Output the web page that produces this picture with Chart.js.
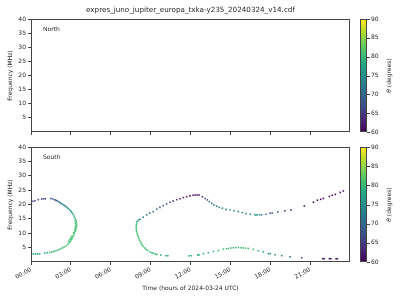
<!DOCTYPE html>
<html><head><meta charset="utf-8">
<script src="https://cdn.jsdelivr.net/npm/chart.js@4.4.0/dist/chart.umd.min.js"></script>
<style>
html,body{margin:0;padding:0;background:#fff;width:400px;height:300px;overflow:hidden}
#c1{position:absolute;left:0;top:0}
#c2{position:absolute;left:0;top:140px}
</style></head><body>
<canvas id="c1" width="400" height="140" style="width:400px;height:140px"></canvas>
<canvas id="c2" width="400" height="160" style="width:400px;height:160px"></canvas>
<script>
// ---- data (time in hours, frequency MHz, theta degrees) ----
const chartTitle = 'expres_juno_jupiter_europa_txka-y235_20240324_v14.cdf';
const timeTickValues = [0, 3, 6, 9, 12, 15, 18, 21];
const timeTickLabels = ['00:00', '03:00', '06:00', '09:00', '12:00', '15:00', '18:00', '21:00'];
const freqTickValues = [5, 10, 15, 20, 25, 30, 35, 40];
const thetaTickValues = [60, 65, 70, 75, 80, 85, 90];
const northPoints = [];
// South: first arc (00:00-03:30), [time, freq, theta]
const southArc1 = [
  [0.0,20.8,66],[0.15,21.1,66],[0.3,21.3,66],[0.55,21.7,66],[0.8,21.9,66],[0.95,22.0,66],[1.08,22.0,66],
  [1.5,22.1,66],[1.65,21.9,67],[1.8,21.6,68],[1.9,21.4,69],[2.0,21.2,70],[2.1,20.9,71],[2.2,20.6,72],
  [2.3,20.3,72],[2.4,20.0,73],[2.5,19.7,74],[2.6,19.4,74],[2.7,19.0,75],[2.8,18.6,75],[2.9,18.2,76],
  [3.0,17.7,76],[3.08,17.2,77],[3.16,16.6,78],[3.24,16.0,79],[3.3,15.4,80],[3.36,14.8,80],[3.4,14.2,81],
  [3.42,13.6,81],[3.43,13.0,81],[3.42,12.4,81],[3.4,11.8,81],[3.36,11.2,81],[3.32,10.6,81],[3.27,10.0,81],
  [3.33,14.2,81],[3.34,13.4,81],[3.34,12.6,81],[3.33,11.8,81],[3.28,11.0,81],[3.2,10.2,81],
  [3.22,9.4,81],[3.16,8.8,81],[3.1,8.2,81],[3.03,7.7,81],[2.96,7.2,81],[2.88,6.7,81],[2.78,6.2,81],
  [3.08,9.0,81],[3.0,8.4,81],[2.92,7.8,81],[2.84,7.2,81],
  [2.66,5.7,81],[2.53,5.3,81],[2.4,5.0,81],[2.28,4.7,81],[2.15,4.4,81],[2.03,4.2,80],[1.88,3.9,80],
  [1.73,3.7,80],[1.57,3.5,80],[1.41,3.3,80],[1.22,3.2,79],[1.03,3.1,79],
  [0.65,2.8,78],[0.5,2.8,78],[0.35,2.8,78],[0.2,2.8,78],[0.05,2.8,78]
];
// South: second arc, upper branch (08:00-23:30)
const southArc2Upper = [
  [8.0,14.2,78],[8.1,14.6,76],[8.2,14.9,74],[8.45,15.6,73],[8.7,16.4,72],[8.95,17.0,71],[9.2,17.5,70],
  [9.46,18.4,69],[9.7,19.0,68],[9.95,19.6,67],[10.2,20.2,66],[10.46,20.8,65],[10.7,21.2,64],[10.96,21.7,64],
  [11.2,22.0,63],[11.46,22.4,63],[11.71,22.7,62],[11.96,23.0,62],[12.2,23.2,61],[12.35,23.3,61],
  [12.5,23.3,61],[12.65,23.3,61],[12.9,22.7,63],[13.1,22.1,66],[13.27,21.6,68],[13.42,21.0,70],
  [13.6,20.4,71],[13.77,19.8,72],[13.97,19.4,73],[14.17,19.0,73],[14.4,18.7,73],[14.67,18.3,74],
  [14.97,18.1,74],[15.27,17.8,74],[15.6,17.5,74],[15.9,17.2,74],[16.18,16.8,74],[16.5,16.6,74],
  [16.85,16.4,74],[17.0,16.4,74],[17.2,16.4,74],[17.35,16.4,74],[17.68,16.6,71],[18.0,17.0,68],
  [18.15,17.0,68],[18.56,17.4,67],[19.1,17.8,63],[19.56,18.1,62],[20.56,19.5,61],[21.25,20.8,60],
  [21.55,21.5,60],[21.8,21.8,60],[22.0,22.1,60],[22.45,22.8,60],[22.67,23.2,60],[22.9,23.5,60],
  [23.27,24.2,60],[23.5,24.7,60]
];
// South: second arc, lower branch (08:00-23:00)
const southArc2Lower = [
  [7.95,13.6,80],[7.93,13.0,80],[7.92,12.4,81],[7.92,11.8,81],[7.93,11.2,81],[7.95,10.6,81],[7.98,10.0,81],
  [8.02,9.4,81],[8.07,8.8,81],[8.12,8.2,81],[8.18,7.6,81],[8.24,7.0,81],[8.3,6.4,81],[8.37,5.9,81],
  [8.45,5.4,81],[8.55,4.9,81],[8.65,4.4,81],[8.78,4.0,81],[8.95,3.5,80],[9.1,3.2,80],[9.2,3.0,80],
  [9.35,2.8,80],[9.46,2.6,80],[9.76,2.4,79],[10.15,2.2,79],[10.3,2.2,79],
  [11.9,2.2,79],[12.05,2.2,79],[12.55,2.4,79],[12.65,2.5,79],[12.97,2.9,79],[13.34,3.2,80],
  [13.72,3.7,80],[14.1,4.0,80],[14.47,4.5,81],[14.7,4.6,81],[14.85,4.7,81],[15.05,4.85,81],
  [15.22,4.95,81],[15.4,5.0,81],[15.6,5.05,81],[15.8,5.0,81],[15.97,4.9,81],[16.15,4.8,81],
  [16.35,4.7,81],[16.73,4.4,80],[17.1,3.9,79],[17.48,3.5,78],[17.86,2.9,76],[18.0,2.9,76],
  [18.36,2.5,75],[18.86,2.2,73],[19.5,1.8,70],[20.37,1.5,66],
  [21.95,1.15,61],[22.05,1.15,61],[22.45,1.15,61],[22.55,1.15,61],[22.95,1.15,61],[23.05,1.15,61]
];

// ---- viridis colormap ----
const VIR = ['#440154','#482475','#414487','#355f8d','#2a788e','#21918c','#22a884','#44bf70','#7ad151','#bddf26','#fde725'];
function hex2rgb(h){return [parseInt(h.substr(1,2),16),parseInt(h.substr(3,2),16),parseInt(h.substr(5,2),16)];}
function viridis(u){
  u = Math.max(0, Math.min(1, u));
  const p = u * (VIR.length - 1), i = Math.min(Math.floor(p), VIR.length - 2), f = p - i;
  const a = hex2rgb(VIR[i]), b = hex2rgb(VIR[i+1]);
  return 'rgb(' + a.map((v,k)=>Math.round(v + (b[k]-v)*f)).join(',') + ')';
}
const TMIN = 60, TMAX = 90;
const FONT = 'DejaVu Sans';
const TXT = '#262626';
const AX = '#444';

function toPts(arr){ return arr.map(r => ({x: r[0], y: r[1], theta: r[2]})); }
function pointColor(c){
  if (!c.raw || c.raw.theta === undefined) return '#000';
  return viridis((c.raw.theta - TMIN) / (TMAX - TMIN));
}

const overlay = {
  id: 'overlay',
  afterDraw(chart, args, o) {
    const ctx = chart.ctx, a = chart.chartArea;
    ctx.save();
    ctx.strokeStyle = AX; ctx.lineWidth = 1;
    ctx.strokeRect(Math.round(a.left) + 0.5, Math.round(a.top) + 0.5, Math.round(a.right - a.left) - 1, Math.round(a.bottom - a.top) - 1);
    ctx.fillStyle = TXT; ctx.font = '6px "' + FONT + '"';
    ctx.textAlign = 'left'; ctx.textBaseline = 'middle';
    ctx.fillText(o.label, a.left + 12, a.top + 10);
    if (o.title) {
      ctx.font = '7.2px "' + FONT + '"'; ctx.textAlign = 'center';
      ctx.fillText(o.title, (a.left + a.right) / 2, 10);
    }
    const x0 = 360, w = 7, top = a.top, bot = a.bottom;
    const g = ctx.createLinearGradient(0, bot, 0, top);
    for (let k = 0; k <= 20; k++) g.addColorStop(k/20, viridis(k/20));
    ctx.fillStyle = g; ctx.fillRect(x0, top, w, bot - top);
    ctx.strokeStyle = AX; ctx.strokeRect(x0 + 0.5, Math.round(top) + 0.5, w - 1, Math.round(bot - top) - 1);
    ctx.fillStyle = TXT; ctx.font = '6px "' + FONT + '"'; ctx.textAlign = 'left'; ctx.textBaseline = 'middle';
    thetaTickValues.forEach(v => {
      const y = bot - (v - TMIN) / (TMAX - TMIN) * (bot - top);
      ctx.beginPath(); ctx.moveTo(x0 + w, Math.round(y) + 0.5); ctx.lineTo(x0 + w + 3, Math.round(y) + 0.5); ctx.stroke();
      ctx.fillText(String(v), x0 + w + 4, y);
    });
    ctx.translate(389, (top + bot) / 2); ctx.rotate(-Math.PI / 2);
    const t1 = 'θ', t2 = ' (degrees)';
    ctx.font = '6px "' + FONT + '"';
    const w2 = ctx.measureText(t2).width;
    ctx.font = 'italic 6px "' + FONT + '"';
    const w1 = ctx.measureText(t1).width;
    ctx.textAlign = 'left';
    ctx.fillText(t1, -(w1 + w2) / 2, 0);
    ctx.font = '6px "' + FONT + '"';
    ctx.fillText(t2, -(w1 + w2) / 2 + w1, 0);
    ctx.restore();
  }
};

function makeChart(id, datasets, isBottom, label) {
  datasets.forEach(d => { d.backgroundColor = pointColor; d.pointStyle = 'rect'; d.pointRadius = 1.1; d.borderWidth = 0; });
  return new Chart(document.getElementById(id), {
    type: 'scatter',
    data: { datasets },
    plugins: [overlay],
    options: {
      responsive: false, animation: false, events: [],
      layout: { padding: { top: isBottom ? 7 : 19, right: 50, left: 0, bottom: 0 } },
      plugins: { legend: { display: false }, tooltip: { enabled: false },
        overlay: { label: label, title: isBottom ? null : chartTitle } },
      scales: {
        x: {
          type: 'linear', min: 0, max: 24,
          afterBuildTicks: s => { s.ticks = timeTickValues.map(v => ({ value: v })); },
          afterFit: s => { s.height = isBottom ? 38 : 8; },
          ticks: { display: isBottom, autoSkip: false, minRotation: 30, maxRotation: 30, padding: 1,
            color: TXT, font: { family: FONT, size: 6 },
            callback: (v, i) => timeTickLabels[i] },
          grid: { display: true, drawOnChartArea: false, drawTicks: true, tickLength: 3, color: AX },
          border: { display: false },
          title: { display: isBottom, text: 'Time (hours of 2024-03-24 UTC)', color: TXT,
            font: { family: FONT, size: 6 }, padding: { top: 0, bottom: 8 } }
        },
        y: {
          type: 'linear', min: 0, max: 40,
          afterBuildTicks: s => { s.ticks = freqTickValues.map(v => ({ value: v })); },
          afterFit: s => { s.width = 31; },
          ticks: { autoSkip: false, padding: 2, color: TXT, font: { family: FONT, size: 6 } },
          grid: { display: true, drawOnChartArea: false, drawTicks: true, tickLength: 3, color: AX },
          border: { display: false },
          title: { display: true, text: 'Frequency (MHz)', color: TXT,
            font: { family: FONT, size: 6 }, padding: { top: 7, bottom: 0 } }
        }
      }
    }
  });
}

makeChart('c1', [{ data: toPts(northPoints) }], false, 'North');
makeChart('c2', [
  { data: toPts(southArc1) },
  { data: toPts(southArc2Upper) },
  { data: toPts(southArc2Lower) }
], true, 'South');
</script>
</body></html>
